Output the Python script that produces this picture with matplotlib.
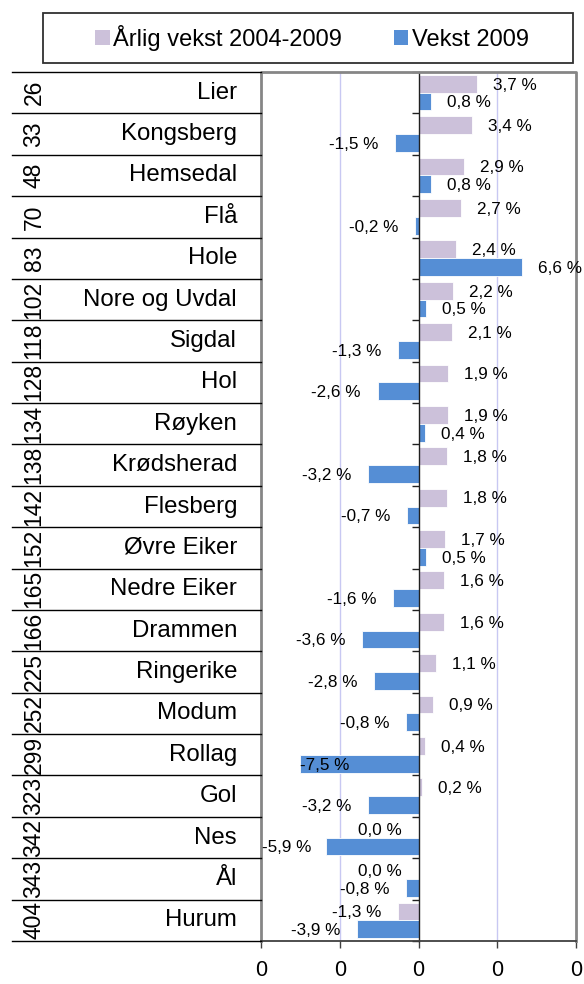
import matplotlib
matplotlib.use("Agg")
import matplotlib.pyplot as plt
import matplotlib.transforms as mtransforms
from matplotlib.patches import Patch, Rectangle
from matplotlib.lines import Line2D
from matplotlib.ticker import FuncFormatter

plt.rcParams["font.family"] = ["Liberation Sans", "DejaVu Sans"]

# ---- Data -----------------------------------------------------------------
names = ["Lier", "Kongsberg", "Hemsedal", "Flå", "Hole", "Nore og Uvdal",
         "Sigdal", "Hol", "Røyken", "Krødsherad", "Flesberg", "Øvre Eiker",
         "Nedre Eiker", "Drammen", "Ringerike", "Modum", "Rollag", "Gol",
         "Nes", "Ål", "Hurum"]
ranks = [26, 33, 48, 70, 83, 102, 118, 128, 134, 138, 142, 152, 165, 166,
         225, 252, 299, 323, 342, 343, 404]
annual = [3.7, 3.4, 2.9, 2.7, 2.4, 2.2, 2.1, 1.9, 1.9, 1.8, 1.8, 1.7, 1.6,
          1.6, 1.1, 0.9, 0.4, 0.2, 0.0, 0.0, -1.3]
growth09 = [0.8, -1.5, 0.8, -0.2, 6.6, 0.5, -1.3, -2.6, 0.4, -3.2, -0.7, 0.5,
            -1.6, -3.6, -2.8, -0.8, -7.5, -3.2, -5.9, -0.8, -3.9]
series_labels = ["Årlig vekst 2004-2009", "Vekst 2009"]

PURPLE = "#ccc1da"
BLUE = "#558ed5"

W, H = 584, 984
fig = plt.figure(figsize=(W / 100, H / 100), dpi=100, facecolor="white")
ax = fig.add_axes([261 / W, (H - 941) / H, (576 - 261) / W, (941 - 72) / H])

n = len(names)
ypos = list(range(n))
bh = 0.43
ax.barh([y - bh / 2 for y in ypos], [v / 100 for v in annual], height=bh,
        color=PURPLE, edgecolor="white", linewidth=0.6, zorder=2)
ax.barh([y + bh / 2 for y in ypos], [v / 100 for v in growth09], height=bh,
        color=BLUE, edgecolor="white", linewidth=0.6, zorder=2)

ax.set_xlim(-0.1, 0.1)
ax.set_ylim(n - 0.5, -0.5)
ax.set_xticks([-0.1, -0.05, 0, 0.05, 0.1])
ax.xaxis.set_major_formatter(FuncFormatter(lambda v, p: f"{int(round(v))}"))
ax.tick_params(axis="x", direction="out", length=5, width=1, color="#404040",
               labelsize=15.5, pad=9)

# category axis sits at zero
ax.spines["left"].set_position(("data", 0))
ax.spines["left"].set_color("#202020")
ax.spines["left"].set_linewidth(1)
ax.set_yticks([y - 0.5 for y in range(n + 1)])
ax.set_yticklabels([])
ax.tick_params(axis="y", direction="out", length=5, width=1, color="#202020")
ax.spines["top"].set_visible(False)
ax.spines["right"].set_visible(False)
ax.spines["bottom"].set_color("#404040")
ax.spines["bottom"].set_linewidth(1.3)
ax.spines["bottom"].set_zorder(5)

for g in (-0.05, 0.05):
    ax.axvline(g, color="#c8c8f2", linewidth=1, zorder=0)

# grey frame around plot area
ax.add_line(Line2D([0, 0, 1, 1], [0, 1, 1, 0], transform=ax.transAxes,
                   color="#868686", linewidth=2, clip_on=False, zorder=4))

# ---- Table on the left ------------------------------------------------------
tr = mtransforms.blended_transform_factory(fig.transFigure, ax.transData)
for b in range(n + 1):
    fig.add_artist(Line2D([12 / W, 261 / W], [b - 0.5, b - 0.5], transform=tr,
                          color="black", linewidth=1))
for i, (nm, rk) in enumerate(zip(names, ranks)):
    fig.text(237 / W, i, nm, transform=tr, ha="right", va="center",
             fontsize=17.3)
    fig.text(34 / W, i, str(rk), transform=tr, ha="center", va="center",
             rotation=90, fontsize=16.5)

# ---- Data labels -----------------------------------------------------------
def fmt(v):
    return f"{v:.1f} %".replace(".", ",")

anns = []
for i in range(n):
    for v, yy in ((annual[i], i - bh / 2), (growth09[i], i + bh / 2)):
        x = v / 100
        if v > 0:
            a = ax.annotate(fmt(v), (x, yy), xytext=(11.5, -1),
                            textcoords="offset points", ha="left",
                            va="center", fontsize=12.3, zorder=6)
        else:
            a = ax.annotate(fmt(v), (x, yy), xytext=(-12, -1),
                            textcoords="offset points", ha="right",
                            va="center", fontsize=12.3, zorder=6)
            anns.append((a, x, yy))

# keep negative labels inside the plot area
fig.canvas.draw()
r = fig.canvas.get_renderer()
ax_left = ax.get_window_extent(r).x0
for a, x, yy in anns:
    bb = a.get_window_extent(r)
    if bb.x0 < ax_left:
        width = bb.width
        bar_end = ax.transData.transform((x, yy))[0]
        if ax_left + 1 + width > bar_end:
            a.xy = (x, yy)
            a.set_ha("left")
            a.xyann = (0, -1)
        else:
            a.xy = (-0.1, yy)
            a.set_ha("left")
            a.xyann = (1, -1)

# ---- Legend -----------------------------------------------------------------
fig.add_artist(Rectangle((43 / W, 1 - 63 / H), 530 / W, 50 / H,
                         transform=fig.transFigure, fill=False,
                         edgecolor="#303030", linewidth=1.3))
handles = [Patch(facecolor=PURPLE), Patch(facecolor=BLUE)]
fig.legend(handles, series_labels, ncol=2, frameon=False, loc="center",
           bbox_to_anchor=(312 / W, 1 - 38 / H), fontsize=17,
           handlelength=0.6, handleheight=0.6, handletextpad=0.15,
           columnspacing=2.2)

fig.savefig("out.png", dpi=100, facecolor="white")
